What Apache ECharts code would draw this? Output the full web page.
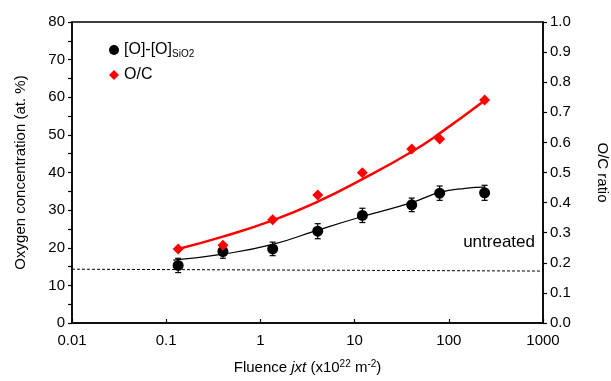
<!DOCTYPE html>
<html>
<head>
<meta charset="utf-8">
<script src="https://cdn.jsdelivr.net/npm/echarts@6/dist/echarts.min.js"></script>
<style>
  html, body { margin: 0; padding: 0; background: #fff; }
  #chart { width: 611px; height: 381px; }
</style>
</head>
<body>
<div id="chart"></div>
<script>
// fluence values (x10^22 m^-2)
const fluence = [0.134, 0.40, 1.35, 4.06, 12.1, 40.4, 80, 240];
// [O]-[O]SiO2 oxygen concentration (at. %) and error
const oxygen = [15.3, 19.0, 19.7, 24.4, 28.6, 31.4, 34.5, 34.6];
const oxygenErr = [1.9, 1.8, 1.8, 2.0, 1.9, 1.8, 1.9, 2.0];
// O/C ratio
const ocRatio = [0.246, 0.258, 0.343, 0.425, 0.499, 0.578, 0.611, 0.741];
// fit curves
const oxyFitX = [0.119, 0.4, 1.35, 4.06, 12.1, 40.4, 80, 150, 240];
const oxyFitY = [16.7, 18.3, 20.9, 24.7, 28.3, 32.0, 34.7, 35.8, 36.1];
const ocFitX = [0.134, 0.4, 1.35, 4.06, 12.1, 40.4, 80, 240];
const ocFitY = [0.246, 0.287, 0.341, 0.403, 0.478, 0.569, 0.630, 0.739];
// untreated reference level
const untreatedX = [0.01, 1000];
const untreatedY = [14.3, 13.8];

const font = "'Liberation Sans', Arial, sans-serif";
const zip = (a, b) => a.map((v, i) => [v, b[i]]);

const chart = echarts.init(document.getElementById("chart"));
chart.setOption({
  animation: false,
  textStyle: { fontFamily: font },
  grid: {
    left: 72, right: 68, top: 22, bottom: 58,
    outerBoundsMode: "none", containLabel: false,
    show: true, borderColor: "#000", borderWidth: 1.5, backgroundColor: "transparent"
  },
  legend: {
    orient: "vertical",
    left: 104, top: 37,
    itemWidth: 10, itemHeight: 10, itemGap: 8,
    data: [
      { name: "[O]-[O]SiO2", icon: "circle", itemStyle: { color: "#000", opacity: 1 } },
      { name: "O/C", icon: "diamond", itemStyle: { color: "#ff0000", opacity: 1 } }
    ],
    formatter: function(name) {
      if (name === "O/C") return "{a|O/C}";
      return "{a|[O]-[O]}{s|SiO2}";
    },
    textStyle: {
      color: "#000",
      rich: {
        a: { fontSize: 16, fontFamily: font, color: "#000" },
        s: { fontSize: 10, fontFamily: font, color: "#000", padding: [8, 0, 0, 0] }
      }
    }
  },
  xAxis: {
    type: "log", logBase: 10, min: 0.01, max: 1000,
    name: "{n|Fluence }{i|jxt}{n| (x10}{p|22}{n| m}{p|-2}{n|)}",
    nameLocation: "middle", nameGap: 36,
    nameTextStyle: {
      rich: {
        n: { fontSize: 15, fontFamily: font, color: "#000" },
        i: { fontSize: 15, fontFamily: font, color: "#000", fontStyle: "italic" },
        p: { fontSize: 10, fontFamily: font, color: "#000", padding: [0, 0, 8, 0] }
      }
    },
    axisLine: { lineStyle: { color: "#000", width: 1.5 } },
    axisTick: { inside: true, length: 4, lineStyle: { color: "#000", width: 1.2 } },
    minorTick: { show: false },
    splitLine: { show: false },
    axisLabel: {
      color: "#000", fontSize: 15, margin: 10,
      formatter: function(v) { return String(+v.toPrecision(3)); }
    }
  },
  yAxis: [
    {
      type: "value", min: 0, max: 80, interval: 10,
      name: "Oxygen concentration (at. %)",
      nameLocation: "middle", nameGap: 44,
      nameTextStyle: { fontSize: 15, color: "#000" },
      axisLine: { show: true, lineStyle: { color: "#000", width: 1.5 } },
      axisTick: { show: true, length: 4, lineStyle: { color: "#000", width: 1.2 } },
      minorTick: { show: true, splitNumber: 2, length: 4, lineStyle: { color: "#000", width: 1.2 } },
      splitLine: { show: false },
      axisLabel: { color: "#000", fontSize: 15, margin: 7 }
    },
    {
      type: "value", min: 0, max: 1, interval: 0.1, position: "right",
      name: "O/C ratio",
      nameLocation: "middle", nameGap: 52, nameRotate: -90,
      nameTextStyle: { fontSize: 15, color: "#000" },
      axisLine: { show: true, lineStyle: { color: "#000", width: 1.5 } },
      axisTick: { show: true, length: 4, lineStyle: { color: "#000", width: 1.2 } },
      splitLine: { show: false },
      axisLabel: {
        color: "#000", fontSize: 15, margin: 7,
        formatter: function(v) { return v.toFixed(1); }
      }
    }
  ],
  series: [
    {
      name: "untreated", type: "line", yAxisIndex: 0,
      data: zip(untreatedX, untreatedY),
      symbol: "none",
      lineStyle: { color: "#000", width: 1, type: [3, 2] },
      silent: true, z: 1
    },
    {
      name: "oxyFit", type: "line", yAxisIndex: 0, smooth: true,
      data: zip(oxyFitX, oxyFitY),
      symbol: "none",
      lineStyle: { color: "#000", width: 1.2 },
      z: 2
    },
    {
      name: "ocFit", type: "line", yAxisIndex: 1, smooth: true,
      data: zip(ocFitX, ocFitY),
      symbol: "none",
      lineStyle: { color: "#ff0000", width: 2.5 },
      z: 2
    },
    {
      name: "oxyErr", type: "custom", yAxisIndex: 0,
      data: fluence.map((x, i) => [x, oxygen[i] - oxygenErr[i], oxygen[i] + oxygenErr[i]]),
      renderItem: function(params, api) {
        const lo = api.coord([api.value(0), api.value(1)]);
        const hi = api.coord([api.value(0), api.value(2)]);
        const w = 3;
        const st = { stroke: "#000", lineWidth: 1.2 };
        return {
          type: "group",
          children: [
            { type: "line", shape: { x1: lo[0], y1: lo[1], x2: hi[0], y2: hi[1] }, style: st },
            { type: "line", shape: { x1: lo[0] - w, y1: lo[1], x2: lo[0] + w, y2: lo[1] }, style: st },
            { type: "line", shape: { x1: hi[0] - w, y1: hi[1], x2: hi[0] + w, y2: hi[1] }, style: st }
          ]
        };
      },
      z: 3
    },
    {
      name: "[O]-[O]SiO2", type: "scatter", yAxisIndex: 0,
      data: zip(fluence, oxygen),
      symbol: "circle", symbolSize: 11,
      itemStyle: { color: "#000", opacity: 1 },
      z: 4
    },
    {
      name: "O/C", type: "scatter", yAxisIndex: 1,
      data: zip(fluence, ocRatio),
      symbol: "diamond", symbolSize: 11,
      itemStyle: { color: "#ff0000", opacity: 1 },
      z: 4
    }
  ],
  graphic: [
    {
      type: "text", right: 76, top: 234,
      style: { text: "untreated", font: "17px " + font, fill: "#000" }
    }
  ]
});
</script>
</body>
</html>
